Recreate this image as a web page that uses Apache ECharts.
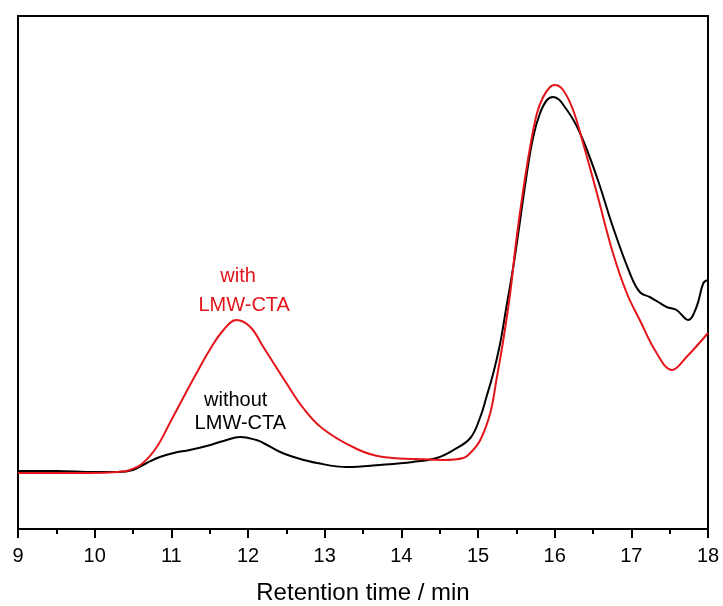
<!DOCTYPE html>
<html>
<head>
<meta charset="utf-8">
<script src="https://cdn.jsdelivr.net/npm/echarts@6/dist/echarts.min.js"></script>
<style>
  html, body { margin: 0; padding: 0; background: #fff; }
  #chart { width: 723px; height: 606px; }
</style>
</head>
<body>
<div id="chart"></div>
<script>
// retention time (min) and detector signal (a.u.)
const timeWithout = [9.0, 9.5, 10.0, 10.3, 10.5, 10.68, 10.85, 11.03, 11.24, 11.46, 11.68, 11.9, 12.11, 12.2, 12.42, 12.64, 12.9, 13.29, 13.72, 14.15, 14.46, 14.68, 14.9, 15.03, 15.11, 15.2, 15.29, 15.37, 15.46, 15.55, 15.63, 15.72, 15.81, 15.9, 15.98, 16.16, 16.33, 16.55, 16.76, 16.98, 17.11, 17.24, 17.35, 17.46, 17.59, 17.74, 17.85, 17.94, 18.0];
const signalWithout = [58, 58, 57, 57, 59, 66, 72, 76, 79, 83, 88, 92, 89, 86, 77, 71, 66, 62, 64, 67, 71, 79, 91, 112, 132, 156, 186, 222, 262, 309, 352, 392, 416, 429, 432, 419, 396, 352, 302, 256, 237, 232, 227, 222, 219, 209, 222, 246, 249];

const timeWith = [9.0, 9.94, 10.3, 10.46, 10.63, 10.81, 10.98, 11.16, 11.33, 11.5, 11.68, 11.85, 12.03, 12.2, 12.5, 12.72, 12.98, 13.42, 13.76, 14.2, 14.55, 14.81, 14.9, 15.03, 15.16, 15.24, 15.33, 15.42, 15.5, 15.59, 15.68, 15.77, 15.85, 15.94, 16.0, 16.11, 16.24, 16.37, 16.55, 16.76, 16.94, 17.11, 17.33, 17.53, 17.72, 18.0];
const signalWith = [56, 56, 57, 59, 66, 82, 106, 132, 156, 179, 199, 209, 202, 182, 146, 121, 100, 80, 72, 70, 69, 71, 76, 89, 116, 149, 189, 236, 289, 339, 382, 416, 432, 442, 444, 439, 419, 386, 336, 276, 236, 209, 176, 159, 172, 196];

const xTicks = [9, 10, 11, 12, 13, 14, 15, 16, 17, 18];

const zip = (xs, ys) => xs.map((x, i) => [x, ys[i]]);

const chart = echarts.init(document.getElementById('chart'));
const font = '"Liberation Sans", Arial, sans-serif';
const red = '#e3151b';

chart.setOption({
  backgroundColor: '#fff',
  animation: false,
  grid: {
    left: 18, right: 15, top: 16, bottom: 77,
    outerBoundsMode: 'none',
    containLabel: false,
    show: true, borderColor: '#000', borderWidth: 2
  },
  xAxis: {
    type: 'value',
    min: xTicks[0],
    max: xTicks[xTicks.length - 1],
    interval: 1,
    name: 'Retention time / min',
    nameLocation: 'middle',
    nameGap: 52,
    nameTextStyle: { fontFamily: font, fontSize: 24, color: '#000' },
    axisLine: { lineStyle: { color: '#000', width: 2 } },
    axisTick: { inside: false, length: 9, lineStyle: { color: '#000', width: 2 } },
    minorTick: { show: true, splitNumber: 2, length: 5, lineStyle: { color: '#000', width: 2 } },
    axisLabel: { fontFamily: font, fontSize: 20, color: '#000', margin: 17 },
    splitLine: { show: false }
  },
  yAxis: {
    type: 'value',
    min: 0,
    max: 513,
    axisLine: { show: true, lineStyle: { color: '#000', width: 2 } },
    axisTick: { show: false },
    axisLabel: { show: false },
    splitLine: { show: false }
  },
  series: [
    {
      name: 'without LMW-CTA',
      type: 'line',
      data: zip(timeWithout, signalWithout),
      showSymbol: false,
      smooth: 0.4,
      lineStyle: { color: '#000', width: 2 },
      markPoint: {
        symbol: 'circle', symbolSize: 0,
        label: { show: true, fontFamily: font, fontSize: 20, color: '#000', position: 'inside' },
        data: [
          { coord: [11.84, 129], value: 'without' },
          { coord: [11.9, 106], value: 'LMW-CTA' }
        ]
      }
    },
    {
      name: 'with LMW-CTA',
      type: 'line',
      data: zip(timeWith, signalWith),
      showSymbol: false,
      smooth: 0.4,
      lineStyle: { color: red, width: 2 },
      markPoint: {
        symbol: 'circle', symbolSize: 0,
        label: { show: true, fontFamily: font, fontSize: 20, color: red, position: 'inside' },
        data: [
          { coord: [11.87, 253], value: 'with' },
          { coord: [11.95, 224], value: 'LMW-CTA' }
        ]
      }
    }
  ]
});
</script>
</body>
</html>
